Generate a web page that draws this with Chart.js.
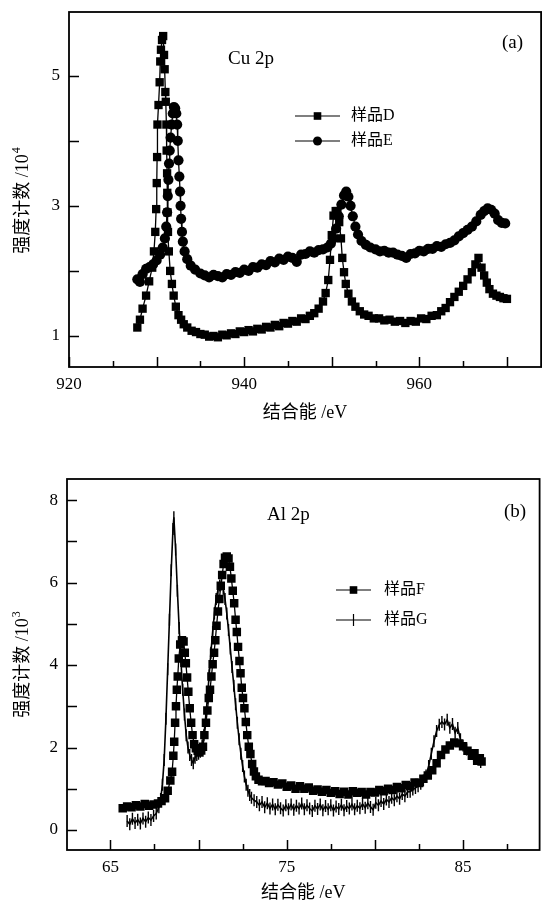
<!DOCTYPE html>
<html>
<head>
<meta charset="utf-8">
<script src="https://cdn.jsdelivr.net/npm/chart.js@4.4.1/dist/chart.umd.min.js"></script>
<style>
  html, body { margin: 0; padding: 0; background: #fff; }
  #wrap { position: relative; width: 547px; height: 903px; }
  canvas { position: absolute; left: 0; }
  #c1 { top: 0; }
  #c2 { top: 455px; }
</style>
</head>
<body>
<div id="wrap">
  <canvas id="c1" width="547" height="445"></canvas>
  <canvas id="c2" width="547" height="448"></canvas>
</div>
<script>
// ---- (a) Cu 2p : counts / 10^4 ----
const dEnergy = [927.8,928.1,928.4,928.8,929.15,929.5,929.7,929.85,929.95,930.02,930.06,930.1,930.22,930.35,930.42,930.5,930.62,930.75,930.85,930.92,931.0,931.05,931.12,931.15,931.2,931.22,931.25,931.3,931.4,931.55,931.75,931.95,932.2,932.5,932.8,933.1,933.5,934.0,934.5,935.0,935.5,936.0,936.5,937.0,937.5,938.0,938.5,939.0,939.5,940.0,940.5,941.0,941.5,942.0,942.5,943.0,943.5,944.0,944.5,945.0,945.5,946.0,946.5,947.0,947.5,948.0,948.5,949.0,949.3,949.6,949.8,950.0,950.2,950.45,950.65,950.85,951.05,951.2,951.4,951.6,951.9,952.3,952.7,953.2,953.7,954.2,954.8,955.4,956.0,956.6,957.2,957.8,958.4,959.0,959.6,960.2,960.8,961.4,962.0,962.5,963.0,963.5,964.0,964.5,965.0,965.5,966.0,966.4,966.75,967.1,967.4,967.7,968.0,968.4,968.8,969.2,969.6,970.0];
const dCounts = [1.13,1.25,1.42,1.62,1.84,2.05,2.3,2.6,2.95,3.35,3.75,4.25,4.55,4.9,5.22,5.4,5.55,5.61,5.32,5.1,4.75,4.6,4.25,3.85,3.5,3.2,2.9,2.6,2.3,2.0,1.8,1.62,1.45,1.32,1.25,1.18,1.13,1.08,1.06,1.03,1.02,0.99,1.0,0.98,1.02,1.01,1.04,1.03,1.07,1.06,1.09,1.07,1.11,1.1,1.14,1.13,1.17,1.15,1.2,1.19,1.23,1.22,1.27,1.26,1.31,1.35,1.42,1.53,1.66,1.86,2.17,2.55,2.85,2.92,2.92,2.75,2.5,2.2,1.98,1.8,1.65,1.53,1.45,1.38,1.33,1.31,1.27,1.27,1.24,1.25,1.22,1.23,1.2,1.23,1.22,1.27,1.26,1.31,1.32,1.38,1.43,1.52,1.6,1.68,1.77,1.87,1.98,2.1,2.2,2.05,1.93,1.82,1.72,1.65,1.62,1.6,1.58,1.57];

const eEnergy = [927.8,928.1,928.4,928.8,929.2,929.6,930.0,930.4,930.7,930.95,931.1,931.2,931.28,931.35,931.42,931.5,931.6,931.72,931.85,931.98,932.12,932.25,932.35,932.42,932.5,932.6,932.68,932.74,932.8,932.9,933.0,933.2,933.5,933.9,934.4,935.0,935.5,936.0,936.5,937.0,937.5,938.0,938.5,939.0,939.5,940.0,940.5,941.0,941.5,942.0,942.5,943.0,943.5,944.0,944.5,945.0,945.5,946.0,946.5,947.0,947.5,948.0,948.5,949.0,949.5,949.9,950.2,950.5,950.8,951.1,951.4,951.65,951.9,952.15,952.4,952.7,953.0,953.4,953.9,954.4,955.0,955.5,956.0,956.5,957.0,957.5,958.0,958.5,959.0,959.5,960.0,960.5,961.0,961.5,962.0,962.5,963.0,963.5,964.0,964.5,965.0,965.5,966.0,966.5,967.0,967.4,967.8,968.2,968.6,969.0,969.4,969.8];
const eCounts = [1.87,1.83,1.95,2.03,2.06,2.1,2.16,2.25,2.36,2.5,2.68,2.9,3.15,3.4,3.65,3.85,4.05,4.25,4.42,4.52,4.5,4.42,4.25,4.0,3.7,3.45,3.22,3.0,2.8,2.6,2.45,2.3,2.18,2.08,2.02,1.96,1.93,1.9,1.94,1.92,1.9,1.95,1.94,1.98,1.97,2.02,2.0,2.06,2.05,2.1,2.09,2.15,2.13,2.19,2.17,2.22,2.2,2.14,2.25,2.26,2.3,2.28,2.32,2.33,2.36,2.42,2.5,2.65,2.84,3.02,3.16,3.22,3.14,3.0,2.84,2.68,2.56,2.46,2.4,2.36,2.33,2.3,2.31,2.28,2.28,2.25,2.23,2.2,2.26,2.27,2.31,2.3,2.34,2.34,2.38,2.37,2.41,2.43,2.47,2.53,2.58,2.63,2.68,2.76,2.86,2.92,2.96,2.94,2.88,2.78,2.74,2.73];

// ---- (b) Al 2p : counts / 10^3 ----
const fEnergy = [65.7,65.95,66.2,66.45,66.7,66.95,67.2,67.45,67.7,67.9,68.1,68.25,68.4,68.5,68.57,68.62,68.67,68.72,68.77,68.82,68.88,68.96,69.06,69.15,69.22,69.28,69.35,69.42,69.5,69.58,69.66,69.75,69.85,69.95,70.05,70.15,70.25,70.33,70.42,70.5,70.58,70.65,70.73,70.8,70.88,70.95,71.02,71.1,71.18,71.26,71.34,71.42,71.5,71.6,71.7,71.78,71.86,71.94,72.02,72.1,72.17,72.24,72.32,72.38,72.45,72.52,72.6,72.68,72.76,72.85,72.94,73.04,73.14,73.25,73.4,73.6,73.8,74.0,74.25,74.5,74.75,75.0,75.25,75.5,75.75,76.0,76.25,76.5,76.75,77.0,77.25,77.5,77.75,78.0,78.25,78.5,78.75,79.0,79.25,79.5,79.75,80.0,80.25,80.5,80.75,81.0,81.25,81.5,81.75,82.0,82.25,82.5,82.75,83.0,83.25,83.5,83.75,84.0,84.25,84.5,84.75,85.0,85.25,85.5,85.65,85.8,85.95,86.05];
const fCounts = [0.53,0.57,0.55,0.6,0.57,0.63,0.59,0.62,0.64,0.7,0.77,0.95,1.2,1.41,1.8,2.14,2.6,3.0,3.4,3.72,4.16,4.5,4.6,4.57,4.3,4.04,3.7,3.35,2.95,2.6,2.3,2.08,1.98,1.92,1.88,1.93,2.02,2.3,2.6,2.9,3.2,3.4,3.72,4.02,4.3,4.6,4.95,5.3,5.6,5.92,6.18,6.45,6.6,6.63,6.58,6.38,6.1,5.8,5.5,5.1,4.8,4.44,4.1,3.8,3.45,3.2,2.95,2.62,2.3,2.02,1.84,1.6,1.42,1.3,1.22,1.18,1.19,1.14,1.16,1.1,1.13,1.05,1.08,1.0,1.06,1.0,1.03,0.95,0.98,0.93,0.97,0.9,0.94,0.87,0.93,0.86,0.94,0.9,0.92,0.86,0.92,0.91,0.97,0.94,1.0,0.97,1.04,1.01,1.09,1.06,1.15,1.14,1.24,1.32,1.45,1.62,1.82,1.95,2.05,2.12,2.1,2.03,1.92,1.8,1.86,1.68,1.74,1.66];

const gEnergy = [65.95,66.1,66.25,66.4,66.55,66.7,66.85,67.0,67.15,67.3,67.45,67.6,67.75,67.85,67.95,68.05,68.15,68.25,68.35,68.45,68.55,68.6,68.7,68.8,68.9,69.0,69.1,69.2,69.3,69.4,69.5,69.6,69.7,69.8,69.9,70.0,70.1,70.2,70.3,70.4,70.5,70.6,70.7,70.8,70.9,71.0,71.1,71.2,71.3,71.4,71.5,71.6,71.7,71.8,71.9,72.0,72.1,72.2,72.3,72.4,72.5,72.6,72.7,72.8,72.9,73.0,73.15,73.3,73.45,73.6,73.75,73.9,74.05,74.2,74.35,74.5,74.65,74.8,74.95,75.1,75.25,75.4,75.55,75.7,75.85,76.0,76.15,76.3,76.45,76.6,76.75,76.9,77.05,77.2,77.35,77.5,77.65,77.8,77.95,78.1,78.25,78.4,78.55,78.7,78.85,79.0,79.15,79.3,79.45,79.6,79.75,79.9,80.05,80.2,80.35,80.5,80.65,80.8,80.95,81.1,81.25,81.4,81.55,81.7,81.85,82.0,82.15,82.3,82.45,82.6,82.75,82.9,83.05,83.2,83.35,83.5,83.65,83.8,83.95,84.1,84.25,84.4,84.55,84.7,84.85,85.0,85.2,85.4,85.6,85.8,86.0];
const gCounts = [0.22,0.14,0.27,0.17,0.25,0.16,0.28,0.2,0.3,0.24,0.34,0.4,0.55,0.75,1.1,1.7,2.7,3.9,5.1,6.3,7.3,7.58,6.8,5.8,4.9,4.1,3.4,2.8,2.3,2.0,1.82,1.7,1.62,1.75,1.82,1.85,1.9,2.05,2.3,2.7,3.2,3.75,4.3,4.8,5.25,5.6,5.82,5.93,5.95,5.85,5.6,5.25,4.85,4.4,3.95,3.5,3.05,2.6,2.2,1.85,1.55,1.3,1.1,0.95,0.85,0.78,0.72,0.68,0.6,0.68,0.55,0.65,0.52,0.62,0.5,0.61,0.53,0.47,0.6,0.5,0.62,0.49,0.59,0.52,0.64,0.5,0.6,0.52,0.46,0.59,0.51,0.62,0.48,0.58,0.5,0.6,0.47,0.57,0.51,0.61,0.48,0.58,0.52,0.62,0.5,0.59,0.53,0.63,0.54,0.65,0.56,0.49,0.66,0.6,0.7,0.63,0.74,0.68,0.78,0.72,0.82,0.76,0.87,0.82,0.92,0.93,0.98,1.02,1.06,1.12,1.2,1.32,1.55,1.85,2.15,2.4,2.55,2.62,2.56,2.67,2.48,2.57,2.36,2.47,2.2,2.05,1.95,1.85,1.8,1.72,1.65];

// tick labels
const xLabelsA = [920, 940, 960];
const yLabelsA = [1, 3, 5];
const xLabelsB = [65, 75, 85];
const yLabelsB = [0, 2, 4, 6, 8];

const SERIF = '"Liberation Serif", "DejaVu Serif", serif';
const TXT = '"Liberation Serif", "Noto Sans CJK SC", serif';

function pts(xs, ys) {
  return xs.map((x, i) => ({ x: x, y: ys[i] }));
}

// frame, inward ticks, titles, legend and labels
const decor = {
  id: 'decor',
  afterDraw(chart) {
    const o = chart.options.plugins.decor;
    const ctx = chart.ctx;
    const a = chart.chartArea;
    const xs = chart.scales.x, ys = chart.scales.y;
    ctx.save();
    ctx.strokeStyle = '#000';
    ctx.fillStyle = '#000';

    // frame
    ctx.lineWidth = 1.8;
    ctx.strokeRect(a.left, a.top, a.right - a.left, a.bottom - a.top);

    // ticks pointing inward
    ctx.lineWidth = 1.5;
    ctx.beginPath();
    for (let v = Math.ceil(xs.min / o.xMinor) * o.xMinor; v <= xs.max; v += o.xMinor) {
      const px = Math.round(xs.getPixelForValue(v)) + 0.5;
      const major = Math.abs(v / o.xMajor - Math.round(v / o.xMajor)) < 1e-6;
      ctx.moveTo(px, a.bottom);
      ctx.lineTo(px, a.bottom - (major ? 10 : 6));
    }
    for (let v = Math.ceil(ys.min); v <= ys.max; v += 1) {
      const py = Math.round(ys.getPixelForValue(v)) + 0.5;
      ctx.moveTo(a.left, py);
      ctx.lineTo(a.left + 10, py);
    }
    ctx.stroke();

    // axis titles
    ctx.textBaseline = 'middle';
    ctx.textAlign = 'center';
    ctx.font = '18px ' + TXT;
    ctx.fillText('结合能 /eV', (a.left + a.right) / 2, o.xTitleY);

    ctx.save();
    ctx.translate(23, o.yTitleY);
    ctx.rotate(-Math.PI / 2);
    ctx.textAlign = 'left';
    ctx.font = '18px ' + TXT;
    const main = '强度计数 /10';
    const wMain = ctx.measureText(main).width;
    ctx.font = '12px ' + SERIF;
    const wSup = ctx.measureText(o.yPow).width;
    const x0 = -(wMain + wSup) / 2;
    ctx.font = '18px ' + TXT;
    ctx.fillText(main, x0, 0);
    ctx.font = '12px ' + SERIF;
    ctx.fillText(o.yPow, x0 + wMain + 1, -6);
    ctx.restore();

    // panel labels
    ctx.font = '19px ' + SERIF;
    ctx.textAlign = 'left';
    o.texts.forEach(t => ctx.fillText(t.s, t.x, t.y));

    // legend
    ctx.font = '16px ' + TXT;
    o.legend.forEach((l, i) => {
      const ds = chart.data.datasets[i];
      const y = l.y;
      ctx.lineWidth = 1.2;
      ctx.beginPath();
      ctx.moveTo(l.x0, y);
      ctx.lineTo(l.x1, y);
      ctx.stroke();
      const mx = (l.x0 + l.x1) / 2;
      if (ds.pointStyle === 'rect') {
        ctx.fillRect(mx - 3.8, y - 3.8, 7.6, 7.6);
      } else if (ds.pointStyle === 'circle') {
        ctx.beginPath();
        ctx.arc(mx, y, 4.5, 0, Math.PI * 2);
        ctx.fill();
      } else {
        ctx.beginPath();
        ctx.moveTo(mx, y - 6);
        ctx.lineTo(mx, y + 6);
        ctx.stroke();
      }
      ctx.fillText(ds.label, l.tx, y);
    });
    ctx.restore();
  }
};

function axisOpts(min, max, step, labels, pad, fit) {
  return {
    type: 'linear',
    min: min,
    max: max,
    grid: { display: false, drawTicks: false },
    border: { display: false },
    afterFit: s => {
      fit(s);
      s.paddingTop = 0; s.paddingBottom = 0; s.paddingLeft = 0; s.paddingRight = 0;
    },
    ticks: {
      stepSize: step,
      includeBounds: false,
      autoSkip: false,
      maxRotation: 0,
      padding: pad,
      color: '#000',
      font: { family: SERIF, size: 17 },
      callback: v => labels.includes(v) ? String(v) : ''
    }
  };
}

try {
  new Chart(document.getElementById('c1'), {
    type: 'scatter',
    data: {
      datasets: [
        {
          label: '样品D', data: pts(dEnergy, dCounts), showLine: true,
          borderColor: '#000', borderWidth: 1.3, pointStyle: 'rect', pointRadius: 5.9,
          pointBackgroundColor: '#000', pointBorderWidth: 0
        },
        {
          label: '样品E', data: pts(eEnergy, eCounts), showLine: true,
          borderColor: '#000', borderWidth: 1.3, pointStyle: 'circle', pointRadius: 5.1,
          pointBackgroundColor: '#000', pointBorderWidth: 0
        }
      ]
    },
    options: {
      responsive: false,
      animation: false,
      layout: { padding: { top: 12, right: 1, left: 0, bottom: 0 } },
      scales: {
        x: axisOpts(920, 973.9, 10, xLabelsA, 7, s => { s.height = 78; }),
        y: axisOpts(0.523, 5.98, 1, yLabelsA, 9, s => { s.width = 69; })
      },
      plugins: {
        legend: { display: false },
        tooltip: { enabled: false },
        decor: {
          xMajor: 10, xMinor: 5, yPow: '4', xTitleY: 413, yTitleY: 201,
          texts: [{ s: 'Cu 2p', x: 228, y: 59 }, { s: '(a)', x: 502, y: 43 }],
          legend: [
            { x0: 295, x1: 340, y: 116, tx: 351 },
            { x0: 295, x1: 340, y: 141, tx: 351 }
          ]
        }
      }
    },
    plugins: [decor]
  });

  new Chart(document.getElementById('c2'), {
    type: 'scatter',
    data: {
      datasets: [
        {
          label: '样品F', data: pts(fEnergy, fCounts), showLine: true,
          borderColor: '#000', borderWidth: 1.3, pointStyle: 'rect', pointRadius: 6,
          pointBackgroundColor: '#000', pointBorderWidth: 0
        },
        {
          label: '样品G', data: pts(gEnergy, gCounts), showLine: true,
          borderColor: '#000', borderWidth: 1.6, pointStyle: 'line', pointRotation: 90, pointRadius: 6,
          pointBorderColor: '#000', pointBorderWidth: 1.4
        }
      ]
    },
    options: {
      responsive: false,
      animation: false,
      layout: { padding: { top: 24, right: 1, left: 0, bottom: 0 } },
      scales: {
        x: axisOpts(62.54, 89.34, 5, xLabelsB, 7, s => { s.height = 53; }),
        y: axisOpts(-0.485, 8.51, 1, yLabelsB, 9, s => { s.width = 67; })
      },
      plugins: {
        legend: { display: false },
        tooltip: { enabled: false },
        decor: {
          xMajor: 5, xMinor: 2.5, yPow: '3', xTitleY: 438, yTitleY: 210,
          texts: [{ s: 'Al 2p', x: 267, y: 60 }, { s: '(b)', x: 504, y: 57 }],
          legend: [
            { x0: 336, x1: 371, y: 135, tx: 384 },
            { x0: 336, x1: 371, y: 165, tx: 384 }
          ]
        }
      }
    },
    plugins: [decor]
  });
} catch (e) {
  console.error('chart error:', e);
}
</script>
</body>
</html>
